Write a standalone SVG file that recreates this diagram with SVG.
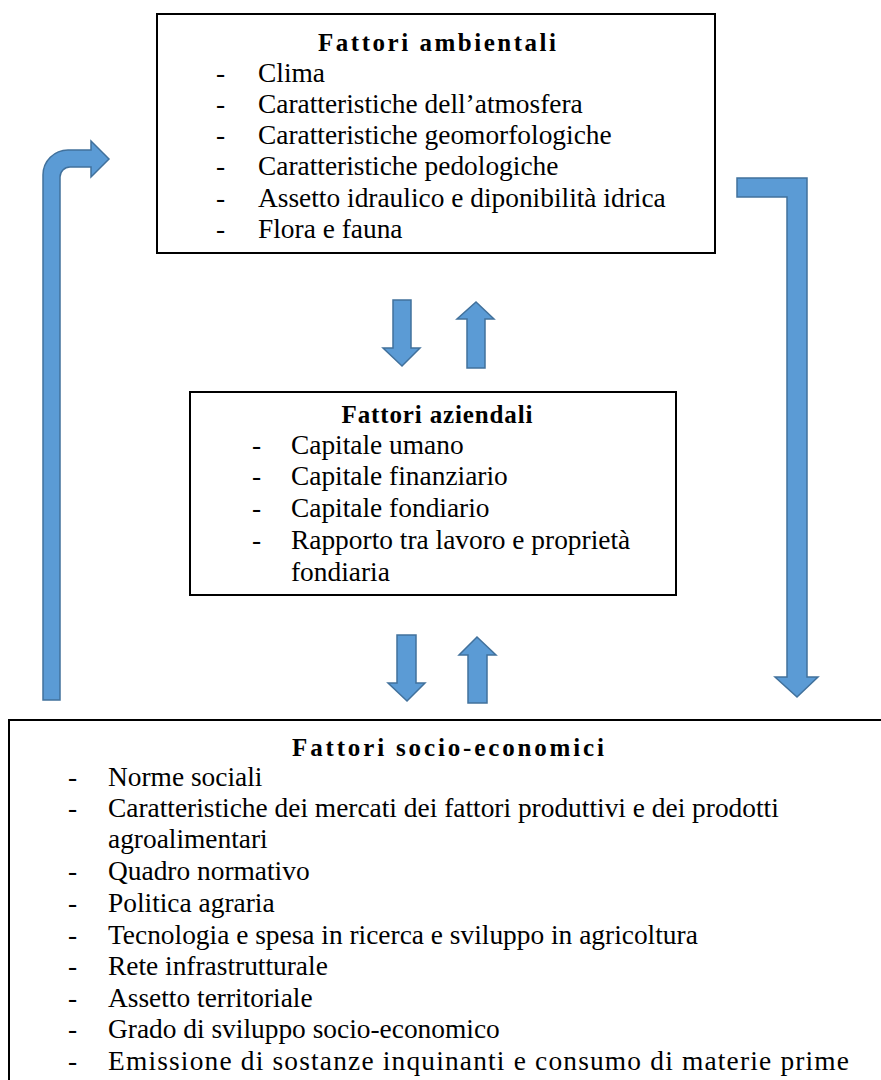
<svg xmlns="http://www.w3.org/2000/svg" width="881" height="1080" viewBox="0 0 881 1080">
<style>
.box{fill:#fff;stroke:#000;stroke-width:2}
.t{font-family:"Liberation Serif","Times New Roman",serif;font-size:27.4px;fill:#000}
.h{font-family:"Liberation Serif","Times New Roman",serif;font-size:25px;font-weight:bold;fill:#000;text-anchor:middle}
.arr{fill:#5B9BD5;stroke:#41719C;stroke-width:1.5;stroke-linejoin:miter}
</style>
<rect width="881" height="1080" fill="#fff"/>
<g id="connectors">
<path class="arr" d="M43,700 L43,175 A25,25 0 0 1 68,150 L91,150 L91,141 L109,159 L91,177 L91,167 L70,167 A10,10 0 0 0 60,177 L60,700 Z"/>
<path class="arr" d="M737,178 L807,178 L807,677 L818,677 L797,697 L775,677 L787,677 L787,197 L737,197 Z"/>
<path class="arr" d="M393,300 L411,300 L411,348 L420,348 L402,366 L383,348 L393,348 Z"/>
<path class="arr" d="M467,368 L485,368 L485,319 L494,319 L476,302 L457,319 L467,319 Z"/>
<path class="arr" d="M397,635 L416,635 L416,683 L425,683 L407,701 L388,683 L397,683 Z"/>
<path class="arr" d="M468,703 L487,703 L487,655 L496,655 L477,637 L459,655 L468,655 Z"/>
</g>
<g id="ambientali">
<rect class="box" x="157" y="14" width="558" height="239"/>
<text class="h" x="437" y="51" textLength="238" lengthAdjust="spacing">Fattori ambientali</text>
<g class="t">
<text x="216" y="82">-</text><text x="258" y="82">Clima</text>
<text x="216" y="113">-</text><text x="258" y="113">Caratteristiche dell’atmosfera</text>
<text x="216" y="144">-</text><text x="258" y="144">Caratteristiche geomorfologiche</text>
<text x="216" y="175">-</text><text x="258" y="175">Caratteristiche pedologiche</text>
<text x="216" y="207">-</text><text x="258" y="207">Assetto idraulico e diponibilità idrica</text>
<text x="216" y="238">-</text><text x="258" y="238">Flora e fauna</text>
</g>
</g>
<g id="aziendali">
<rect class="box" x="190" y="392" width="486" height="203"/>
<text class="h" x="437" y="423" textLength="191" lengthAdjust="spacing">Fattori aziendali</text>
<g class="t">
<text x="252" y="454">-</text><text x="291" y="454">Capitale umano</text>
<text x="252" y="485">-</text><text x="291" y="485">Capitale finanziario</text>
<text x="252" y="517">-</text><text x="291" y="517">Capitale fondiario</text>
<text x="252" y="549">-</text><text x="291" y="549">Rapporto tra lavoro e proprietà</text>
<text x="291" y="581">fondiaria</text>
</g>
</g>
<g id="socioeconomici">
<rect class="box" x="9" y="720" width="900" height="400"/>
<text class="h" x="448" y="756" textLength="312" lengthAdjust="spacing">Fattori socio-economici</text>
<g class="t">
<text x="68" y="786">-</text><text x="108" y="786">Norme sociali</text>
<text x="68" y="817">-</text><text x="108" y="817">Caratteristiche dei mercati dei fattori produttivi e dei prodotti</text>
<text x="108" y="848">agroalimentari</text>
<text x="68" y="880">-</text><text x="108" y="880">Quadro normativo</text>
<text x="68" y="912">-</text><text x="108" y="912">Politica agraria</text>
<text x="68" y="944">-</text><text x="108" y="944">Tecnologia e spesa in ricerca e sviluppo in agricoltura</text>
<text x="68" y="975">-</text><text x="108" y="975">Rete infrastrutturale</text>
<text x="68" y="1007">-</text><text x="108" y="1007">Assetto territoriale</text>
<text x="68" y="1038">-</text><text x="108" y="1038">Grado di sviluppo socio-economico</text>
<text x="68" y="1070">-</text><text x="108" y="1070" textLength="741" lengthAdjust="spacing">Emissione di sostanze inquinanti e consumo di materie prime</text>
</g>
</g>
</svg>
